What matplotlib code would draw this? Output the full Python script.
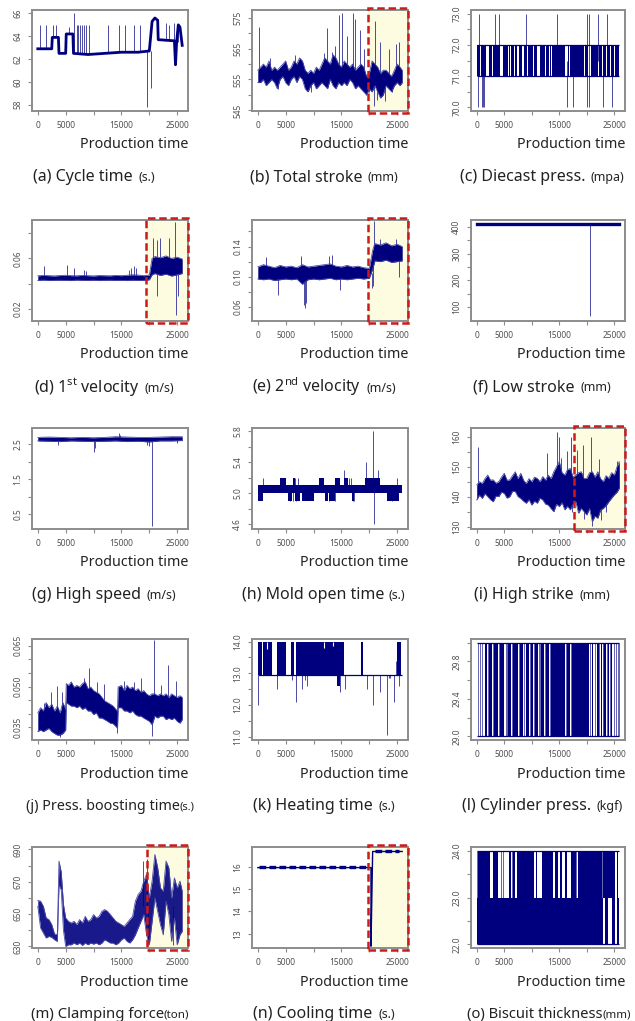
import numpy as np
import matplotlib.pyplot as plt
import matplotlib.transforms as mtransforms
from matplotlib.patches import Rectangle
from matplotlib.offsetbox import TextArea, HPacker, AnnotationBbox

plt.rcParams['font.family'] = ['Noto Sans', 'DejaVu Sans']
plt.rcParams['mathtext.fontset'] = 'custom'
plt.rcParams['mathtext.rm'] = 'Noto Sans'

NAVY = '#00007f'
LIGHT = '#4a4aa6'
RED = '#cc1b1b'
CREAM = '#fdfbe0'

# shared time axis
time_ticks = [0, 5000, 10000, 15000, 20000, 25000]
time_labels = ['0', '5000', '', '15000', '', '25000']

captions = [('(a) Cycle time', '(s.)'), ('(b) Total stroke', '(mm)'), ('(c) Diecast press.', '(mpa)'),
            ('(d) 1$^{\\mathrm{st}}$ velocity', '(m/s)'), ('(e) 2$^{\\mathrm{nd}}$ velocity', '(m/s)'),
            ('(f) Low stroke', '(mm)'), ('(g) High speed', '(m/s)'), ('(h) Mold open time', '(s.)'),
            ('(i) High strike', '(mm)'), ('(j) Press. boosting time', '(s.)'), ('(k) Heating time', '(s.)'),
            ('(l) Cylinder press.', '(kgf)'), ('(m) Clamping force', '(ton)'), ('(n) Cooling time', '(s.)'),
            ('(o) Biscuit thickness', '(mm)')]
caption_gap = [4, 4, 4, 4, 4, 4, 4, 3, 4, 0, 4, 4, 0, 4, 0]
caption_size = [11.5, 11.5, 11.5, 11.5, 11.5, 11.5, 11.5, 11.5, 11.5, 10.3, 11.5, 11.5, 10.7, 11.5, 10.6]
caption_dx = [-10, 0, 0, 0, 0, 0, 0, 0, 0, 6, 0, 0, 6, 0, 7]

# (a) cycle time
a_x = [0, 2500, 2600, 3700, 3800, 5000, 5100, 6300, 6400, 9000, 12000, 15000, 18000, 19800, 20000,
       20500, 21000, 21500, 21600, 24500, 24700, 24900, 25200, 25500, 25900]
a_y = [62.9, 62.9, 63.9, 63.9, 62.5, 62.5, 64.2, 64.2, 62.5, 62.4, 62.5, 62.6, 62.6, 62.7, 62.7,
       65.3, 65.6, 65.4, 63.7, 63.6, 61.5, 63.5, 65.0, 64.8, 63.2]
a_sx = [400, 1500, 2800, 3300, 5600, 6500, 7000, 7300, 7600, 7900, 8300, 8700, 9100, 12600, 14600,
        15700, 17300, 18400, 19500, 20300, 23000, 23500, 24400, 25200]
a_base = [62.9, 62.9, 63.9, 63.9, 64.2, 62.5, 62.5, 62.5, 62.5, 62.5, 62.5, 62.5, 62.5, 62.5, 62.6,
          62.6, 62.6, 62.6, 62.7, 62.7, 63.6, 63.6, 63.6, 63.5]
a_tip = [65.0, 65.0, 65.0, 65.0, 64.8, 66.0, 65.0, 65.0, 65.0, 65.0, 65.0, 65.0, 65.0, 65.0, 65.0,
         65.0, 65.0, 65.0, 57.8, 59.5, 65.2, 65.0, 65.2, 65.0]

# (b) total stroke
b_t = list(range(0, 26000, 500)) + [25900]
b_lo = [554, 554, 555, 553, 554, 555, 554, 552, 555, 556, 554, 553, 555, 556, 554, 556, 555, 552, 551, 553,
        554, 552, 553, 554, 553, 552, 555, 553, 552, 554, 553, 554, 553, 555, 554, 552, 553, 552, 551, 550,
        552, 551, 553, 551, 549, 550, 553, 552, 551, 553, 554, 553, 554]
b_hi = [558, 559, 560, 559, 561, 558, 559, 558, 559, 560, 561, 558, 559, 561, 560, 562, 561, 558, 557, 558,
        557, 559, 558, 560, 562, 561, 560, 563, 562, 560, 559, 561, 560, 559, 560, 558, 559, 560, 559, 556,
        557, 561, 560, 559, 557, 558, 558, 557, 556, 558, 560, 559, 558]
b_sx = [150, 12400, 13900, 14500, 15100, 16000, 17000, 17500, 18400, 19000, 21000, 22000, 23600, 24800,
        25400, 3700, 19400, 19900, 20800, 21400, 22800, 24100, 2200, 6600, 9600, 11800, 13300]
b_tip = [572, 571.6, 566, 575.8, 576.4, 569, 576.4, 574.5, 571, 565, 574, 567, 565, 566.5, 567,
         552, 550, 551, 546.4, 548.5, 548, 551, 562, 563, 551, 563.5, 564]

# (c) diecast pressure
c_on = [0, 800, 2200, 2950, 4700, 5800, 6300, 6900, 7600, 8650, 9400, 10450, 11500, 12600, 13300,
        13650, 16500, 16900, 19750, 20800, 22250, 22950, 23650, 24400, 25100]
c_off = [600, 1700, 2800, 4200, 5600, 6100, 6700, 7400, 8150, 9200, 10300, 11000, 12400, 13150, 13500,
         16000, 16700, 19550, 20300, 22050, 22800, 23500, 24200, 24900, 25900]
c_sx = [350, 3350, 4050, 8900, 14600, 20000, 20350, 22100, 23700,
        150, 1000, 1200, 1400, 16400, 17500, 20100, 20350, 23000, 24500]
c_tip = [73] * 9 + [70] * 10

# (d) 1st velocity
d_t = list(range(0, 21000, 1000)) + [20500, 21000, 22000, 23000, 24000, 25000, 25900]
d_lo = [0.0425, 0.0428, 0.0424, 0.0426, 0.0427, 0.0425, 0.0424, 0.0428, 0.0426, 0.0425,
        0.0427, 0.0424, 0.0426, 0.0427, 0.0425, 0.0426, 0.0424, 0.0427, 0.0425, 0.0426,
        0.0430, 0.0470, 0.0480, 0.0465, 0.0475, 0.0460, 0.0470, 0.0480]
d_hi = [0.0462, 0.0465, 0.0463, 0.0461, 0.0464, 0.0466, 0.0463, 0.0462, 0.0465, 0.0463,
        0.0461, 0.0464, 0.0463, 0.0462, 0.0465, 0.0463, 0.0466, 0.0470, 0.0468, 0.0463,
        0.0468, 0.0600, 0.0615, 0.0605, 0.0620, 0.0600, 0.0610, 0.0595]
d_sx = [1200, 5200, 6500, 8300, 8700, 16300, 16800, 17200, 17600, 20700, 21300, 21900, 23600, 24600,
        21300, 24800, 25100]
d_base = [0.0445] * 9 + [0.054] * 8
d_tip = [0.054, 0.055, 0.052, 0.051, 0.050, 0.051, 0.052, 0.054, 0.052, 0.0766, 0.075, 0.0766, 0.0766,
         0.089, 0.0305, 0.0147, 0.0305]

# (e) 2nd velocity
e_t = list(range(0, 21000, 1000)) + [20600, 21000, 22000, 23000, 24000, 25000, 25900]
e_lo = [0.097, 0.096, 0.097, 0.095, 0.096, 0.097, 0.096, 0.097, 0.090, 0.096,
        0.097, 0.096, 0.097, 0.098, 0.096, 0.097, 0.096, 0.097, 0.098, 0.097,
        0.098, 0.110, 0.121, 0.120, 0.122, 0.119, 0.120, 0.121]
e_hi = [0.113, 0.116, 0.114, 0.112, 0.115, 0.113, 0.114, 0.112, 0.116, 0.113,
        0.114, 0.115, 0.116, 0.117, 0.114, 0.113, 0.115, 0.113, 0.114, 0.112,
        0.111, 0.135, 0.144, 0.142, 0.145, 0.141, 0.143, 0.140]
e_sx = [1400, 7800, 12800, 13300, 20900, 22000, 24800, 3600, 8200, 8500, 8700, 14700, 20400, 20700, 25400]
e_base = [0.105] * 4 + [0.132] * 3 + [0.105] * 6 + [0.120, 0.130]
e_tip = [0.126, 0.127, 0.127, 0.129, 0.174, 0.150, 0.150, 0.076, 0.062, 0.058, 0.065, 0.083, 0.085,
         0.088, 0.100]

# (f) low stroke
f_x = [0, 25900]
f_y = [412, 412]
f_sx = [20600]
f_tip = [65]

# (g) high speed
g_t = list(range(0, 26000, 2000)) + [25900]
g_lo = [2.60, 2.59, 2.58, 2.60, 2.59, 2.58, 2.59, 2.60, 2.58, 2.59, 2.57, 2.60, 2.60, 2.61]
g_hi = [2.70, 2.71, 2.70, 2.69, 2.70, 2.69, 2.70, 2.72, 2.71, 2.70, 2.70, 2.71, 2.72, 2.72]
g_sx = [3600, 10000, 10200, 14600, 14800, 19600, 20000, 20400, 25000]
g_tip = [2.48, 2.27, 2.40, 2.83, 2.78, 2.47, 2.45, 0.17, 2.55]

# (h) mold open time
h_low_on = [0, 5500, 6700, 8000, 12000, 12800, 16900, 23200]
h_low_off = [1000, 6100, 7600, 10000, 12600, 13900, 17200, 25400]
h_up_on = [4000, 6400, 11000, 13900, 15500, 19300]
h_up_off = [5000, 6700, 11800, 14800, 16100, 22000]
h_sx = [1000, 6700, 7300, 16400, 16800, 25000, 15400, 21600, 19400, 20700, 20800,
        5800, 6300, 6900, 12700, 13800, 17000, 17300, 24000]
h_tip = [5.2, 5.2, 5.2, 5.2, 5.2, 5.2, 5.3, 5.3, 5.4, 5.8, 4.6, 4.9, 4.9, 4.9, 4.9, 4.9, 4.9, 4.9, 4.9]

# (i) high strike
i_t = list(range(0, 26000, 500)) + [25900]
i_lo = [138.9, 140.5, 139.4, 141.0, 140.0, 139.0, 138.3, 140.2, 140.0, 141.5,
        141.1, 139.5, 140.0, 141.8, 141.7, 140.0, 139.4, 138.5, 137.8, 139.0,
        137.2, 138.5, 137.8, 139.5, 138.9, 137.5, 137.2, 136.0, 135.0, 137.5,
        136.7, 138.0, 135.6, 136.8, 135.6, 137.5, 138.3, 134.5, 136.1, 135.0,
        133.9, 136.0, 131.7, 133.5, 132.8, 135.5, 136.1, 137.0, 138.3, 139.5,
        140.6, 141.5, 142.8]
i_hi = [143.9, 145.0, 144.4, 146.0, 147.2, 145.5, 145.6, 144.5, 145.0, 146.5,
        147.8, 145.5, 145.6, 147.0, 148.3, 146.0, 147.8, 145.5, 144.4, 146.0,
        145.0, 146.5, 146.1, 145.0, 146.7, 145.5, 147.2, 146.0, 148.3, 150.0,
        151.7, 148.0, 147.2, 149.0, 149.4, 146.5, 147.2, 148.0, 148.3, 146.0,
        146.1, 148.0, 148.3, 146.5, 148.3, 146.0, 145.0, 147.0, 146.1, 148.0,
        147.2, 150.0, 151.7]
i_sx = [300, 12800, 14600, 14900, 15300, 16400, 17200, 18300, 19300, 20800, 22300, 24500, 25500,
        17300, 19400, 20900, 22600, 23500]
i_tip = [156.5, 154.7, 161.6, 160.0, 153.0, 155.3, 160.0, 155.5, 157.3, 160.0, 152.5, 146.0, 152.0,
         135.0, 132.6, 130.1, 132.3, 135.0]

# (j) pressure boosting time
j_t = [0, 500, 1000, 1500, 2000, 2500, 3000, 3500, 4000, 4500, 5000, 5100,
       5500, 6000, 6500, 7000, 7500, 8000, 8500, 9000, 9500, 10000, 10500, 11000, 11500, 12000,
       12500, 13000, 13500, 14000, 14300, 14400,
       15000, 15500, 16000, 16500, 17000, 17500, 18000, 18500, 19000, 19500, 20000, 20500, 21000,
       21500, 22000, 22500, 23000, 23500, 24000, 24500, 25000, 25500, 25900]
j_hi = [0.0403, 0.0422, 0.0410, 0.0441, 0.0422, 0.0435, 0.0410, 0.0428, 0.0403, 0.0441, 0.0416, 0.0511,
        0.0504, 0.0517, 0.0498, 0.0504, 0.0498, 0.0511, 0.0517, 0.0492, 0.0498, 0.0485, 0.0479, 0.0473,
        0.0460, 0.0447, 0.0441, 0.0435, 0.0428, 0.0416, 0.0410, 0.0498,
        0.0504, 0.0485, 0.0504, 0.0492, 0.0498, 0.0485, 0.0492, 0.0479, 0.0485, 0.0473, 0.0466, 0.0473,
        0.0473, 0.0466, 0.0473, 0.0466, 0.0473, 0.0460, 0.0473, 0.0466, 0.0460, 0.0466, 0.0460]
j_lo = [0.0334, 0.0340, 0.0334, 0.0340, 0.0346, 0.0334, 0.0327, 0.0321, 0.0321, 0.0327, 0.0340, 0.0441,
        0.0435, 0.0428, 0.0428, 0.0422, 0.0428, 0.0416, 0.0422, 0.0410, 0.0410, 0.0397, 0.0403, 0.0384,
        0.0384, 0.0378, 0.0372, 0.0365, 0.0363, 0.0353, 0.0346, 0.0422,
        0.0422, 0.0410, 0.0410, 0.0403, 0.0410, 0.0397, 0.0391, 0.0391, 0.0384, 0.0378, 0.0372, 0.0359,
        0.0391, 0.0384, 0.0391, 0.0391, 0.0378, 0.0384, 0.0378, 0.0384, 0.0372, 0.0365, 0.0378]
j_sx = [1200, 2300, 3500, 4300, 8200, 9200, 10700, 11900, 15500, 17300, 18500, 20900, 22100, 23400,
        24800, 20400, 14200, 4000]
j_base = [0.037, 0.037, 0.037, 0.037, 0.046, 0.045, 0.044, 0.042, 0.045, 0.044, 0.043, 0.042, 0.042,
          0.042, 0.042, 0.042, 0.038, 0.037]
j_tip = [0.0441, 0.0479, 0.0502, 0.0479, 0.0530, 0.0570, 0.0517, 0.0511, 0.0520, 0.0517, 0.0530,
         0.0672, 0.0504, 0.0580, 0.0520, 0.0318, 0.0330, 0.0315]

# (k) heating time
k_on = [120, 1020, 3420, 5940, 6830, 18530, 25000]
k_off = [840, 2520, 5040, 6410, 15400, 18940, 25660]
k_notch_x = [1600, 11900, 13400]
k_notch_y = [13.75, 13.8, 13.85]
k_sx = [0, 3400, 6100, 6900, 8000, 8500, 8900, 14800, 15700, 19600, 20700, 22000, 23200, 23500,
        23800, 24500, 25300, 24800]
k_tip = [12.0, 12.5, 12.8, 12.1, 12.5, 12.8, 12.6, 12.4, 12.5, 12.5, 12.0, 12.4, 11.05, 12.85,
         12.85, 12.1, 12.6, 13.4]

# (l) cylinder pressure
l_on = [1430, 2290, 3210, 4290, 5710, 6640, 7860, 8930, 9790, 10500, 11640, 12640, 13570, 16430,
        17360, 20930, 21790, 22500, 23210, 23790, 24430]
l_off = [1790, 2860, 3930, 5000, 6210, 7500, 8360, 9500, 10210, 11070, 12140, 13070, 16070, 16930,
         20360, 21210, 22140, 22710, 23430, 24070, 24640]
l_thin = [200, 600, 900, 2000, 3000, 4100, 5300, 5500, 6400, 7700, 8600, 9650, 10350, 11300, 11450,
          12400, 13300, 16250, 17100, 20600, 21500, 22000, 22300, 22900, 23000, 23600, 24200, 25000,
          25300, 25600, 25800]

# (m) clamping force
m_t = [0, 500, 1000, 1500, 2000, 2500, 3000, 3500, 3800, 4200, 4600] + list(range(5000, 26000, 500)) + [25900]
m_hi = [658.4, 658.0, 654.8, 647.6, 646.6, 643.5, 637.7, 637.2, 682.8, 676.0, 656.0,
        647.6, 645.5, 644.5, 645.5, 643.5, 646.6, 644.5, 648.6, 645.5, 646.6,
        649.7, 647.6, 648.6, 651.7, 652.8, 651.7, 649.7, 647.6, 645.5, 644.5,
        643.5, 642.4, 644.5, 646.6, 648.6, 658.0, 662.1, 664.2, 670.4, 674.5,
        660.0, 670.4, 686.9, 678.7, 666.2, 664.2, 682.8, 678.7, 660.0, 672.4,
        666.2, 670.4, 664.2]
m_lo = [654.8, 641.4, 638.3, 635.2, 636.2, 635.6, 634.1, 633.1, 668.0, 665.0, 640.0,
        630.0, 631.0, 631.0, 632.1, 631.0, 632.1, 630.6, 632.1, 631.0, 632.1,
        631.4, 632.1, 631.0, 632.1, 634.1, 633.1, 632.1, 632.1, 631.0, 632.1,
        634.1, 635.2, 633.1, 632.1, 634.1, 637.2, 641.4, 645.5, 649.7, 637.2,
        631.0, 645.5, 660.0, 651.7, 643.5, 637.2, 658.0, 649.7, 633.1, 647.6,
        631.0, 637.2, 639.3]
m_sx = [18900, 19600, 19800, 24200]
m_tip = [682.8, 684.0, 631.0, 631.0]

# (n) cooling time
n_x = [0, 20100, 20300, 20300, 20600, 25900]
n_y = [15.96, 15.96, 15.96, 12.45, 16.68, 16.68]
n_dot_on = [200, 21000]
n_dot_off = [20000, 25300]
n_dot_y = [16.0, 16.72]

# (o) biscuit thickness
o_low_on = [0, 23300, 24500, 25500]
o_low_off = [23000, 23900, 25200, 25900]
o_up_on = [180, 3000, 5890, 6610, 7390, 10700, 11780, 14300, 15200, 16100, 17200, 18330, 22900, 25420]
o_up_off = [2400, 3900, 6310, 6910, 10400, 11000, 13820, 14780, 15500, 16400, 18100, 22720, 25120, 25720]
o_thin = [0, 3370, 4390, 4690, 6490, 7900, 18100, 20300, 22780]

# layout (pixels of the 635x1021 canvas)
col_left = [32, 252, 471]
col_w = [156, 156, 154]
row_top = [10, 220, 428, 639, 847]
ax_h = 101

fig = plt.figure(figsize=(6.35, 10.21), dpi=100)
axes = []
for r in range(5):
    for c in range(3):
        ax = fig.add_axes([col_left[c] / 635, 1 - (row_top[r] + ax_h) / 1021, col_w[c] / 635, ax_h / 1021])
        axes.append(ax)


def frame(ax, ylim, yticks, ylabels):
    ax.set_xlim(-1040, 26940)
    ax.set_ylim(*ylim)
    ax.set_xticks(time_ticks)
    ax.set_xticklabels(time_labels)
    ax.set_yticks(yticks)
    ax.set_yticklabels(ylabels, rotation=90, va='center')
    ax.tick_params(length=3, width=0.8, color='#8c8c8c', labelsize=6, labelcolor='#505050', pad=4)
    for s in ax.spines.values():
        s.set_color('#8c8c8c')
        s.set_linewidth(1.4)


def band(ax, t, lo, hi, alpha=1.0):
    ax.fill_between(t, lo, hi, color=NAVY, lw=0, alpha=alpha, zorder=3)
    ax.plot(t, lo, color=LIGHT, lw=0.6, zorder=3)
    ax.plot(t, hi, color=LIGHT, lw=0.6, zorder=3)


def spikes(ax, x, base, tip):
    ax.vlines(x, base, tip, color=LIGHT, lw=0.7, zorder=2)


def blocks(ax, on, off, y0, y1, color=NAVY):
    ax.broken_barh([(s, e - s) for s, e in zip(on, off)], (y0, y1 - y0), color=color, lw=0, zorder=3)


def highlight(ax, x0):
    tr = mtransforms.blended_transform_factory(ax.transData, ax.transAxes)
    ax.add_patch(Rectangle((x0, 0), 27000 - x0, 1, transform=tr, color=CREAM, lw=0, zorder=0))
    ax.add_patch(Rectangle((x0, -0.015), 26930 - x0, 1.03, transform=tr, fill=False, ec=RED, lw=1.8,
                           ls=(0, (3, 1.5)), zorder=6, clip_on=False))


# (a)
ax = axes[0]
spikes(ax, a_sx, a_base, a_tip)
ax.plot(a_x, a_y, color=NAVY, lw=2.0, zorder=3)
frame(ax, (57.45, 66.3), [58, 60, 62, 64, 66], ['58', '60', '62', '64', '66'])

# (b)
ax = axes[1]
highlight(ax, 19700)
spikes(ax, b_sx, [556.5] * len(b_sx), b_tip)
band(ax, b_t, b_lo, b_hi)
frame(ax, (544.8, 577.5), [545, 550, 555, 560, 565, 570, 575], ['545', '', '555', '', '565', '', '575'])

# (c)
ax = axes[2]
spikes(ax, c_sx, [71.5] * len(c_sx), c_tip)
blocks(ax, c_on, c_off, 71, 72)
ax.hlines([71, 72], 0, 25900, color=NAVY, lw=0.9, zorder=3)
frame(ax, (69.88, 73.12), [70, 70.5, 71, 71.5, 72, 72.5, 73],
      ['70.0', '', '71.0', '', '72.0', '', '73.0'])

# (d)
ax = axes[3]
highlight(ax, 19400)
spikes(ax, d_sx, d_base, d_tip)
band(ax, d_t, d_lo, d_hi)
frame(ax, (0.0103, 0.0905), [0.02, 0.04, 0.06, 0.08], ['0.02', '', '0.06', ''])

# (e)
ax = axes[4]
highlight(ax, 19800)
spikes(ax, e_sx, e_base, e_tip)
band(ax, e_t, e_lo, e_hi)
frame(ax, (0.0413, 0.1752), [0.06, 0.08, 0.10, 0.12, 0.14, 0.16], ['0.06', '', '0.10', '', '0.14', ''])

# (f)
ax = axes[5]
spikes(ax, f_sx, [412], f_tip)
ax.plot(f_x, f_y, color=NAVY, lw=2.4, zorder=3)
frame(ax, (47, 427), [100, 150, 200, 250, 300, 350, 400], ['100', '', '200', '', '300', '', '400'])

# (g)
ax = axes[6]
spikes(ax, g_sx, [2.65] * len(g_sx), g_tip)
band(ax, g_t, g_lo, g_hi)
frame(ax, (0.07, 2.97), [0.5, 1.0, 1.5, 2.0, 2.5], ['0.5', '', '1.5', '', '2.5'])

# (h)
ax = axes[7]
spikes(ax, h_sx, [5.05] * len(h_sx), h_tip)
blocks(ax, [0], [25900], 5.0, 5.1)
blocks(ax, h_low_on, h_low_off, 4.9, 5.0)
blocks(ax, h_up_on, h_up_off, 5.1, 5.2)
frame(ax, (4.535, 5.843), [4.6, 4.8, 5.0, 5.2, 5.4, 5.6, 5.8], ['4.6', '', '5.0', '', '5.4', '', '5.8'])

# (i)
ax = axes[8]
highlight(ax, 17650)
spikes(ax, i_sx, [142] * len(i_sx), i_tip)
band(ax, i_t, i_lo, i_hi)
frame(ax, (129.2, 162.9), [130, 135, 140, 145, 150, 155, 160], ['130', '', '140', '', '150', '', '160'])

# (j)
ax = axes[9]
spikes(ax, j_sx, j_base, j_tip)
band(ax, j_t, j_lo, j_hi)
frame(ax, (0.0303, 0.0675), [0.035, 0.040, 0.045, 0.050, 0.055, 0.060, 0.065],
      ['0.035', '', '', '0.050', '', '', '0.065'])

# (k)
ax = axes[10]
spikes(ax, k_sx, [12.95] * len(k_sx), k_tip)
ax.hlines(12.95, 0, 25900, color=NAVY, lw=0.9, zorder=3)
blocks(ax, k_on, k_off, 12.95, 14.0)
blocks(ax, [14200], [14800], 12.6, 12.95)
ax.vlines(k_notch_x, k_notch_y, 14.0, color='white', lw=0.8, zorder=4)
frame(ax, (10.9, 14.08), [11.0, 11.5, 12.0, 12.5, 13.0, 13.5, 14.0],
      ['11.0', '', '12.0', '', '13.0', '', '14.0'])

# (l)
ax = axes[11]
ax.vlines(l_thin, 29.0, 30.0, color=LIGHT, lw=0.6, zorder=2)
blocks(ax, l_on, l_off, 29.0, 30.0)
ax.hlines([29.0, 30.0], 0, 25900, color=NAVY, lw=0.9, zorder=3)
frame(ax, (28.96, 30.04), [29.0, 29.2, 29.4, 29.6, 29.8, 30.0], ['29.0', '', '29.4', '', '29.8', ''])

# (m)
ax = axes[12]
highlight(ax, 19640)
spikes(ax, m_sx, [655] * len(m_sx), m_tip)
band(ax, m_t, m_lo, m_hi, alpha=0.9)
frame(ax, (629, 691.5), [630, 640, 650, 660, 670, 680, 690], ['630', '', '650', '', '670', '', '690'])

# (n)
ax = axes[13]
highlight(ax, 19800)
ax.plot(n_x, n_y, color=NAVY, lw=1.0, zorder=3)
ax.hlines(n_dot_y, n_dot_on, n_dot_off, color=NAVY, lw=2.4, linestyles=(0, (2, 1)), zorder=3)
frame(ax, (12.37, 16.88), [13, 14, 15, 16], ['13', '14', '15', '16'])

# (o)
ax = axes[14]
blocks(ax, o_low_on, o_low_off, 22.0, 23.0)
blocks(ax, o_up_on, o_up_off, 23.0, 24.0)
ax.vlines(o_thin, 22.0, 24.0, color=LIGHT, lw=0.6, zorder=2)
ax.hlines([22.0, 24.0], 0, 25900, color=NAVY, lw=0.9, zorder=3)
frame(ax, (21.92, 24.08), [22.0, 22.5, 23.0, 23.5, 24.0], ['22.0', '', '23.0', '', '24.0'])

# labels under each panel
for i, ax in enumerate(axes):
    r, c = divmod(i, 3)
    bottom = row_top[r] + ax_h
    right = col_left[c] + col_w[c]
    centre = col_left[c] + col_w[c] / 2 - 6 + caption_dx[i]
    fig.text(right / 635, 1 - (bottom + 34) / 1021, 'Production time', ha='right', va='center',
             fontsize=10.3, color='#222222')
    main, unit = captions[i]
    size = caption_size[i]
    box = HPacker(children=[TextArea(main, textprops=dict(fontsize=size, color='#222222')),
                            TextArea(unit, textprops=dict(fontsize=size * 0.78, color='#222222'))],
                  align='baseline', pad=0, sep=caption_gap[i])
    ab = AnnotationBbox(box, (centre / 635, 1 - (bottom + 66) / 1021), xycoords='figure fraction',
                        box_alignment=(0.5, 0.5), frameon=False, pad=0)
    fig.add_artist(ab)

fig.savefig('out.png', dpi=100)
